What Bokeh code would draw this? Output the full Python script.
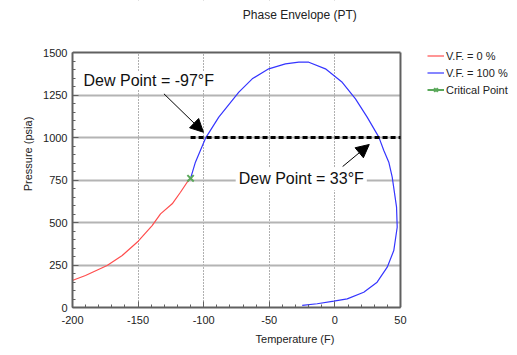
from bokeh.plotting import figure
from bokeh.models import (Range1d, Label, Arrow, NormalHead, Legend, LegendItem,
                          FixedTicker, BoxAnnotation)
from bokeh.embed import file_html
from bokeh.resources import INLINE

# ---- data ----
red_T = [-200.2, -190.1, -173.6, -162.1, -149.9, -139.3, -132.9, -124.0, -117.7,
         -112.6, -110.0]
red_P = [159, 188, 247, 306, 390, 482, 551, 610, 678, 737, 760]

blue_T = [-110.0, -106.3, -98.6, -88.5, -73.2, -63.0, -50.4, -37.7, -27.5, -19.9,
          -7.2, 5.6, 15.7, 24.6, 33.5, 37.3, 41.1, 43.7, 47.0, 47.5, 44.9, 39.9,
          32.2, 22.0, 9.4, -0.8, -13.5, -24.9]
blue_P = [760, 855, 996, 1120, 1267, 1345, 1404, 1433, 1443, 1443,
          1404, 1325, 1227, 1120, 1002, 924, 855, 767, 590, 472, 335, 237,
          149, 90, 51, 37, 22, 12]

crit_T = [-110.0]
crit_P = [760]

dash_T = [-110, 50]
dash_P = [1000, 1000]

x_ticks = [-200, -150, -100, -50, 0, 50]
y_ticks = [0, 250, 500, 750, 1000, 1250, 1500]

FONT = "Liberation Sans"
DARK = "#606060"

xmin, xmax = x_ticks[0], x_ticks[-1]
ymin, ymax = y_ticks[0], y_ticks[-1]

# frame spans to the right/top edges so that title and legend can live inside it
p = figure(width=517, height=355, output_backend="svg", toolbar_location=None,
           x_range=Range1d(xmin, 139.2), y_range=Range1d(ymin, 1805.9),
           min_border_left=72, min_border_right=0, min_border_top=0,
           min_border_bottom=48)
p.background_fill_color = "white"
p.border_fill_color = "white"
p.outline_line_color = None

for ax in (p.xaxis[0], p.yaxis[0]):
    ax.axis_line_color = DARK
    ax.axis_line_width = 2
    ax.major_tick_in = 6
    ax.major_tick_out = 0
    ax.minor_tick_in = 3
    ax.minor_tick_out = 0
    ax.major_tick_line_color = DARK
    ax.minor_tick_line_color = DARK
    ax.major_label_text_font = FONT
    ax.major_label_text_font_size = "11px"
    ax.major_label_text_color = "#222222"
    ax.axis_label_text_font = FONT
    ax.axis_label_text_font_size = "11px"
    ax.axis_label_text_font_style = "normal"
    ax.axis_label_text_color = "#222222"

p.xaxis.bounds = (xmin, xmax)
p.yaxis.bounds = (ymin, ymax)
p.xaxis.ticker = FixedTicker(ticks=x_ticks, minor_ticks=list(range(xmin, xmax + 1, 10)))
p.yaxis.ticker = FixedTicker(ticks=y_ticks, minor_ticks=list(range(ymin, ymax + 1, 50)))
p.xaxis.major_label_overrides = {t: str(t) for t in x_ticks}
p.xaxis.axis_label = "Temperature (F)"
p.yaxis.axis_label = "Pressure (psia)"
p.xaxis.major_label_standoff = 8
p.xaxis.axis_label_standoff = 6
p.yaxis.major_label_standoff = 5
p.yaxis.axis_label_standoff = 6

p.xgrid.ticker = FixedTicker(ticks=x_ticks[1:-1])
p.ygrid.ticker = FixedTicker(ticks=y_ticks[1:-1])
p.xgrid.grid_line_color = DARK
p.xgrid.grid_line_dash = "1 2"
p.xgrid.grid_line_width = 1
p.ygrid.grid_line_color = "#b4b4b4"
p.ygrid.grid_line_width = 2

# blank out grid outside the plot area
p.add_layout(BoxAnnotation(bottom=ymax, fill_color="white", fill_alpha=1,
                           line_alpha=0, level="underlay"))
p.add_layout(BoxAnnotation(left=xmax, fill_color="white", fill_alpha=1,
                           line_alpha=0, level="underlay"))
# plot-area border (top and right)
p.segment(x0=[xmin, xmax], y0=[ymax, ymin], x1=[xmax, xmax], y1=[ymax, ymax],
          line_color=DARK, line_width=2)

r_red = p.line(red_T, red_P, line_color="#ff4d4d", line_width=1.2)
r_blue = p.line(blue_T, blue_P, line_color="#3535ff", line_width=1.2)
p.line(dash_T, dash_P, line_color="black", line_width=3, line_dash="5 3")
r_cl = p.line(crit_T, crit_P, line_color="#5aa85a", line_width=2)
r_cx = p.scatter(crit_T, crit_P, marker="x", size=9, line_color="#5aa85a", line_width=2)

# arrows
p.add_layout(Arrow(x_start=-130.3, y_start=1257, x_end=-100.2, y_end=1031,
                   line_color="black", line_width=1,
                   end=NormalHead(size=13, fill_color="black", line_color="black")))
p.add_layout(Arrow(x_start=5.9, y_start=829, x_end=26.2, y_end=959,
                   line_color="black", line_width=1,
                   end=NormalHead(size=13, fill_color="black", line_color="black")))

p.add_layout(Label(x=-191.6, y=1335, text="Dew Point = -97°F", text_font=FONT,
                   text_font_size="16px", text_baseline="middle", text_color="#111111",
                   background_fill_color="white"))
p.add_layout(Label(x=-75.6, y=757, text="Dew Point = 33°F", text_font=FONT,
                   text_font_size="16px", text_baseline="middle", text_color="#111111",
                   background_fill_color="white", padding=3))

# title
p.add_layout(Label(x=-70.2, y=1720, text="Phase Envelope (PT)", text_font=FONT,
                   text_font_size="12px", text_baseline="middle", text_color="#222222"))

legend = Legend(items=[
    LegendItem(label="V.F. = 0 %", renderers=[r_red]),
    LegendItem(label="V.F. = 100 %", renderers=[r_blue]),
    LegendItem(label="Critical Point", renderers=[r_cl, r_cx]),
], location=(355, 211), glyph_width=17, glyph_height=13, label_height=13,
    label_standoff=2, spacing=4, padding=0, margin=0,
    label_text_font=FONT, label_text_font_size="11px", label_text_color="#222222",
    border_line_alpha=0, background_fill_alpha=0)
p.add_layout(legend)

open("out.html", "w").write(file_html(p, INLINE))
